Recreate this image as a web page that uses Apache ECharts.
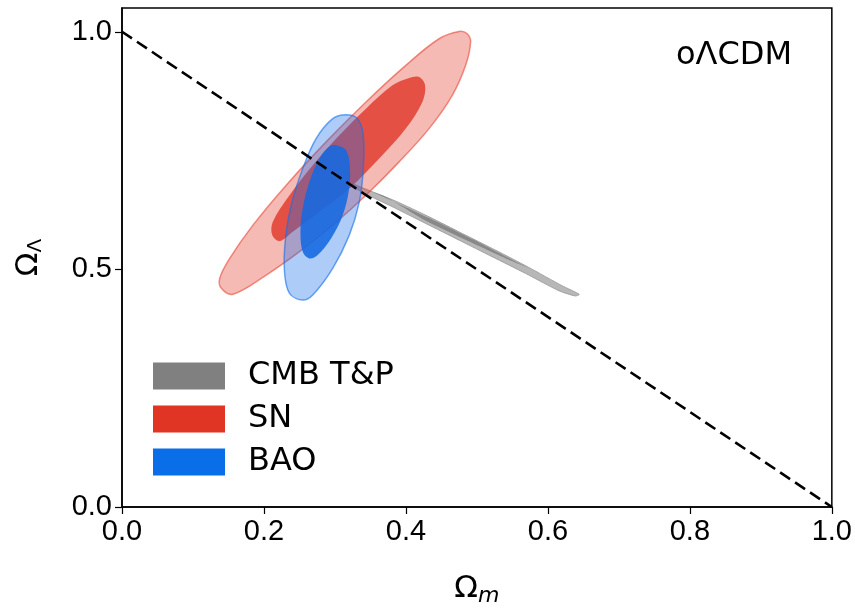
<!DOCTYPE html>
<html>
<head>
<meta charset="utf-8">
<script src="https://cdn.jsdelivr.net/npm/echarts@6/dist/echarts.min.js"></script>
<style>
html,body{margin:0;padding:0;background:#fff;}
#chart{width:855px;height:612px;}
</style>
</head>
<body>
<div id="chart"></div>
<script>
// Axis ticks
const xTicks = [0, 0.2, 0.4, 0.6, 0.8, 1.0];
const yTicks = [0, 0.5, 1.0];

// Flat-universe reference line (Omega_m + Omega_Lambda = 1)
const flatLine = [[0, 1], [1, 0]];

// Contour outlines: [Omega_m, Omega_Lambda]
const snOuter = [
  [0.4864, 0.9958], [0.4911, 0.9783], [0.4841, 0.9293], [0.4653, 0.8662], [0.4326, 0.7962],
  [0.3904, 0.7262], [0.3437, 0.6561], [0.2968, 0.5931], [0.2500, 0.5372], [0.2032, 0.4880],
  [0.1563, 0.4475], [0.1400, 0.4601], [0.1376, 0.4811], [0.1517, 0.5231], [0.1845, 0.5931],
  [0.2313, 0.6771], [0.2875, 0.7683], [0.3437, 0.8523], [0.3998, 0.9293], [0.4466, 0.9853],
  [0.4747, 1.0007]
];
const snInner = [
  [0.4185, 0.9048], [0.4270, 0.8872], [0.4232, 0.8523], [0.3998, 0.7962], [0.3624, 0.7332],
  [0.3202, 0.6702], [0.2781, 0.6212], [0.2406, 0.5792], [0.2219, 0.5595], [0.2116, 0.5721],
  [0.2125, 0.6002], [0.2360, 0.6561], [0.2687, 0.7192], [0.3062, 0.7822], [0.3437, 0.8382],
  [0.3810, 0.8872], [0.4045, 0.9027]
];
const baoOuter = [
  [0.3156, 0.8256], [0.3319, 0.8172], [0.3399, 0.7822], [0.3399, 0.7122], [0.3343, 0.6422],
  [0.3202, 0.5721], [0.2968, 0.5021], [0.2687, 0.4460], [0.2546, 0.4355], [0.2360, 0.4496],
  [0.2289, 0.4951], [0.2303, 0.5651], [0.2383, 0.6351], [0.2546, 0.7122], [0.2734, 0.7752],
  [0.2968, 0.8172]
];
const baoInner = [
  [0.3015, 0.7612], [0.3156, 0.7507], [0.3212, 0.7122], [0.3193, 0.6632], [0.3109, 0.6141],
  [0.2945, 0.5651], [0.2757, 0.5301], [0.2640, 0.5231], [0.2546, 0.5372], [0.2514, 0.5792],
  [0.2546, 0.6282], [0.2640, 0.6842], [0.2781, 0.7332], [0.2921, 0.7584]
];
const cmbOuter = [
  [0.3062, 0.6912], [0.3390, 0.6716], [0.3858, 0.6435], [0.4326, 0.6107], [0.4794, 0.5756],
  [0.5262, 0.5406], [0.5730, 0.5042], [0.6199, 0.4657], [0.6442, 0.4475], [0.6386, 0.4440],
  [0.6152, 0.4552], [0.5684, 0.4916], [0.5215, 0.5266], [0.4747, 0.5616], [0.4279, 0.5966],
  [0.3810, 0.6317], [0.3390, 0.6618]
];
const cmbInner = [
  [0.3300, 0.6740], [0.3530, 0.6630], [0.4326, 0.6080], [0.5028, 0.5567], [0.5500, 0.5200],
  [0.5730, 0.5030], [0.5500, 0.5170], [0.4981, 0.5525], [0.4279, 0.6023], [0.3680, 0.6548]
];

const legendNames = ['CMB T&P', 'SN', 'BAO'];
const legendColors = ['#808080', '#e03424', '#0a6ee8'];

function contour(name, pts, fill, stroke, lw, z, smooth) {
  return {
    type: 'custom',
    name: name,
    data: pts,
    encode: { x: 0, y: 1 },
    z: z,
    silent: true,
    clip: true,
    renderItem: function (params, api) {
      if (params.dataIndex !== 0) return null;
      const points = pts.map(function (p) { return api.coord(p); });
      return {
        type: 'polygon',
        shape: { points: points, smooth: smooth },
        style: { fill: fill, stroke: stroke, lineWidth: lw }
      };
    }
  };
}

const chart = echarts.init(document.getElementById('chart'), null, { renderer: 'canvas' });

const tickFont = { fontFamily: 'Liberation Sans', fontSize: 29, color: '#000' };

chart.setOption({
  animation: false,
  backgroundColor: '#fff',
  grid: { left: 122, right: 21, top: 8, bottom: 103, show: true, borderColor: '#000', borderWidth: 1.5, backgroundColor: 'transparent' },
  xAxis: {
    type: 'value', min: 0, max: 1, interval: 0.2,
    name: 'Ω{sub|m}', nameLocation: 'middle', nameGap: 64,
    nameTextStyle: {
      fontFamily: 'DejaVu Sans', fontSize: 31, color: '#000',
      rich: { sub: { fontFamily: 'DejaVu Sans', fontStyle: 'italic', fontSize: 22, padding: [14, 0, 0, 0], color: '#000' } }
    },
    axisLine: { show: true, onZero: false, lineStyle: { color: '#000', width: 1.5 } },
    axisTick: { show: true, inside: false, length: 7, lineStyle: { color: '#000', width: 1.2 } },
    axisLabel: Object.assign({ margin: 10, formatter: function (v) { return v.toFixed(1); } }, tickFont),
    splitLine: { show: false }
  },
  yAxis: {
    type: 'value', min: 0, max: 1.05, interval: 0.5,
    name: 'Ω{sub|Λ}', nameLocation: 'middle', nameGap: 76, nameRotate: 90,
    nameTextStyle: {
      fontFamily: 'DejaVu Sans', fontSize: 31, color: '#000',
      rich: { sub: { fontFamily: 'DejaVu Sans', fontSize: 20, padding: [14, 0, 0, 0], color: '#000' } }
    },
    axisLine: { show: true, onZero: false, lineStyle: { color: '#000', width: 1.5 } },
    axisTick: { show: true, inside: false, length: 7, customValues: yTicks, lineStyle: { color: '#000', width: 1.2 } },
    axisLabel: Object.assign({ margin: 10, customValues: yTicks, formatter: function (v) { return v.toFixed(1); } }, tickFont),
    splitLine: { show: false }
  },
  legend: {
    orient: 'vertical', left: 148, top: 355,
    itemWidth: 72, itemHeight: 27, itemGap: 11,
    icon: 'rect',
    selectedMode: false,
    textStyle: { fontFamily: 'DejaVu Sans', fontSize: 32, color: '#000', padding: [0, 0, 0, 18] },
    data: legendNames.map(function (n, i) {
      return { name: n, icon: 'rect', itemStyle: { color: legendColors[i], borderWidth: 0, decal: 'none' } };
    })
  },
  graphic: [{
    type: 'text', left: 676, top: 40, z: 100,
    style: { text: 'oΛCDM', font: '32px "DejaVu Sans"', fill: '#000' }
  }],
  series: [
    contour('cmbOuterS', cmbOuter, 'rgba(165,165,165,0.8)', 'rgba(150,150,150,0.8)', 1, 2, 0.2),
    contour('CMB T&P', cmbInner, 'rgba(115,115,115,0.7)', 'none', 0, 3, 0.2),
    contour('snOuterS', snOuter, 'rgba(229,57,40,0.35)', 'rgba(229,57,40,0.55)', 1.5, 4, 0.35),
    contour('SN', snInner, 'rgba(224,62,48,0.85)', 'none', 0, 5, 0.35),
    contour('baoOuterS', baoOuter, 'rgba(20,110,235,0.35)', 'rgba(20,110,235,0.6)', 1.5, 6, 0.35),
    contour('BAO', baoInner, 'rgba(20,105,225,0.88)', 'none', 0, 7, 0.35),
    {
      type: 'line', name: 'flat', data: flatLine, z: 10, silent: true,
      showSymbol: false, symbol: 'none',
      lineStyle: { color: '#000', width: 2.6, type: [12, 6] }
    }
  ]
});
</script>
</body>
</html>
